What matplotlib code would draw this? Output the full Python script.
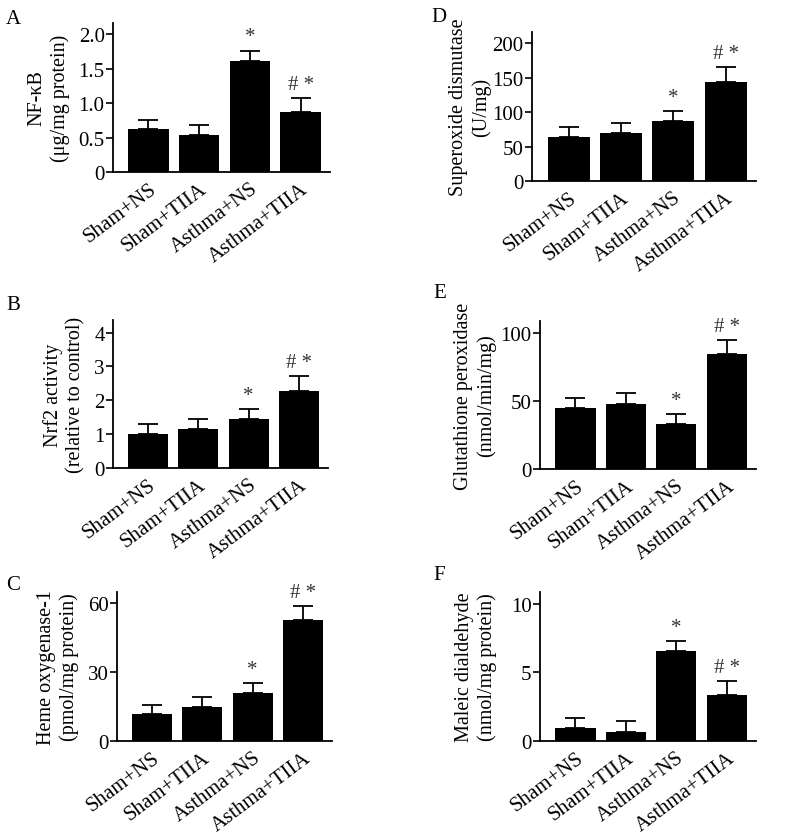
import matplotlib.pyplot as plt
import matplotlib.transforms as mtransforms

plt.rcParams['font.family'] = ['Liberation Serif', 'DejaVu Serif']

groups = ['Sham+NS', 'Sham+TIIA', 'Asthma+NS', 'Asthma+TIIA']

nfkb = [0.62, 0.53, 1.61, 0.87]
nfkb_err = [0.14, 0.15, 0.15, 0.20]

nrf2 = [1.0, 1.15, 1.45, 2.28]
nrf2_err = [0.29, 0.30, 0.30, 0.43]

ho1 = [11.7, 14.7, 20.9, 52.7]
ho1_err = [4.2, 4.7, 4.2, 6.0]

sod = [64, 69, 87, 144]
sod_err = [14.6, 15.5, 14.6, 21]

gpx = [44.4, 47.6, 33.2, 84.4]
gpx_err = [7.6, 8.0, 7.0, 10.2]

mda = [0.95, 0.68, 6.55, 3.33]
mda_err = [0.75, 0.76, 0.75, 1.03]

marks_A = ['', '', '*', '# *']
marks_B = ['', '', '*', '# *']
marks_C = ['', '', '*', '# *']
marks_D = ['', '', '*', '# *']
marks_E = ['', '', '*', '# *']
marks_F = ['', '', '*', '# *']

fig = plt.figure(figsize=(7.86, 8.37), dpi=100)
W, H = 786, 837


def add_axes(x0, x1, ytop, ybot):
    return fig.add_axes([x0 / W, 1 - ybot / H, (x1 - x0) / W, (ybot - ytop) / H])


def panel(ax, letter, vals, errs, marks, ylim, yticks, yticklabels, ylabel, lx, ly, lpad=6):
    x = list(range(len(groups)))
    ax.bar(x, vals, width=0.8, color='black', zorder=2)
    ax.errorbar(x, vals, yerr=[[0] * len(errs), errs], fmt='none', ecolor='black',
                elinewidth=1.3, capsize=7, capthick=1.3, zorder=3)
    for xi, v, e, m in zip(x, vals, errs, marks):
        if m:
            ax.annotate(m, (xi, v + e), xytext=(0, 3), textcoords='offset points',
                        ha='center', va='bottom', fontsize=15, color='#333333')
    ax.set_xlim(-0.7, 3.58)
    ax.set_ylim(*ylim)
    ax.set_yticks(yticks)
    ax.set_yticklabels(yticklabels, fontsize=15)
    ax.set_xticks(x)
    ax.set_xticklabels(groups, rotation=37, ha='right', rotation_mode='anchor', fontsize=15)
    shift = mtransforms.ScaledTranslation(7 / 100, 0, fig.dpi_scale_trans)
    for lab in ax.get_xticklabels():
        lab.set_transform(lab.get_transform() + shift)
    ax.tick_params(axis='x', length=0, pad=5)
    ax.tick_params(axis='y', direction='out', length=5, width=1.2, pad=1)
    for s in ['top', 'right']:
        ax.spines[s].set_visible(False)
    for s in ['left', 'bottom']:
        ax.spines[s].set_linewidth(1.3)
    ax.set_ylabel(ylabel, fontsize=14.5, linespacing=1.25, labelpad=lpad)
    fig.text(lx / W, 1 - ly / H, letter, fontsize=15, ha='left', va='center')


ax = add_axes(113, 330, 24, 173)
panel(ax, 'A', nfkb, nfkb_err, marks_A, (0, 2.16), [0, 0.5, 1.0, 1.5, 2.0],
      ['0', '0.5', '1.0', '1.5', '2.0'], 'NF-κB\n(μg/mg protein)', 6, 20)

ax = add_axes(113, 328, 321, 469)
panel(ax, 'B', nrf2, nrf2_err, marks_B, (0, 4.37), [0, 1, 2, 3, 4],
      ['0', '1', '2', '3', '4'], 'Nrf2 activity\n(relative to control)', 6, 306)

ax = add_axes(117, 332, 593, 742)
panel(ax, 'C', ho1, ho1_err, marks_C, (0, 65), [0, 30, 60],
      ['0', '30', '60'], 'Heme oxygenase-1\n(pmol/mg protein)', 6, 586)

ax = add_axes(532, 756, 33, 182)
panel(ax, 'D', sod, sod_err, marks_D, (0, 216), [0, 50, 100, 150, 200],
      ['0', '50', '100', '150', '200'], 'Superoxide dismutase\n(U/mg)', 431, 17, lpad=1)

ax = add_axes(540, 756, 322, 470)
panel(ax, 'E', gpx, gpx_err, marks_E, (0, 108.5), [0, 50, 100],
      ['0', '50', '100'], 'Glutathione peroxidase\n(nmol/min/mg)', 433, 294, lpad=3)

ax = add_axes(540, 756, 593, 742)
panel(ax, 'F', mda, mda_err, marks_F, (0, 10.85), [0, 5, 10],
      ['0', '5', '10'], 'Maleic dialdehyde\n(nmol/mg protein)', 433, 575, lpad=10)

fig.savefig('out.png', dpi=100)
